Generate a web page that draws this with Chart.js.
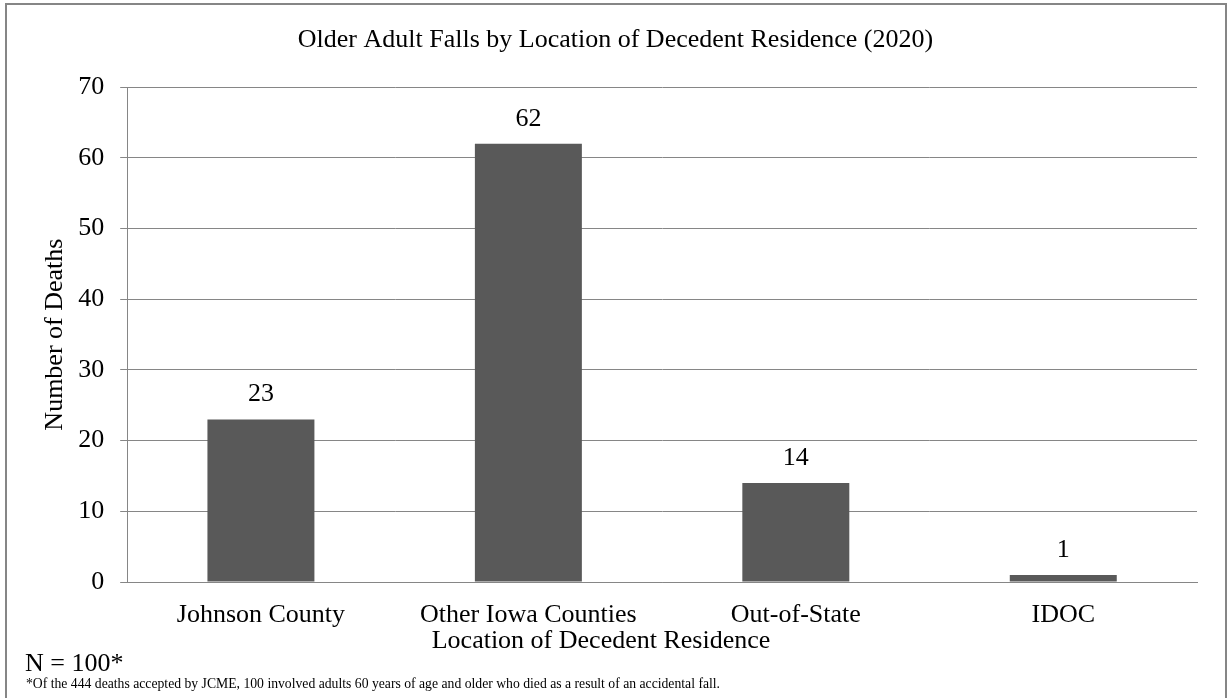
<!DOCTYPE html>
<html>
<head>
<meta charset="utf-8">
<script src="https://cdn.jsdelivr.net/npm/chart.js@4"></script>
<style>
  body { margin: 0; background: #fff; }
  #wrap { width: 1227px; height: 698px; }
</style>
</head>
<body>
<div id="wrap"><canvas id="fallsChart" width="1227" height="698"></canvas></div>
<script>
const categories = ['Johnson County', 'Other Iowa Counties', 'Out-of-State', 'IDOC'];
const deaths = [23, 62, 14, 1];
const yTicks = [0, 10, 20, 30, 40, 50, 60, 70];

const serif = '"Liberation Serif", "Times New Roman", serif';
const gridGray = '#868686';

const ctx = document.getElementById('fallsChart').getContext('2d');

const chart = new Chart(ctx, {
    type: 'bar',
    data: {
        labels: categories,
        datasets: [{
            data: deaths,
            backgroundColor: '#595959',
            categoryPercentage: 1,
            barPercentage: 0.4
        }]
    },
    options: {
        responsive: false,
        animation: false,
        layout: { padding: { left: 34, right: 30, top: 0, bottom: 0 } },
        plugins: {
            legend: { display: false },
            tooltip: { enabled: false },
            title: {
                display: true,
                text: 'Older Adult Falls by Location of Decedent Residence (2020)',
                color: '#000',
                font: { family: serif, size: 26, weight: 'normal' },
                padding: { top: 25, bottom: 31 }
            }
        },
        scales: {
            y: {
                min: 0,
                max: 70,
                afterBuildTicks(scale) {
                    scale.ticks = yTicks.map(v => ({ value: v }));
                },
                ticks: {
                    color: '#000',
                    padding: 16,
                    font: { family: serif, size: 26 }
                },
                grid: { color: gridGray, lineWidth: 1, tickLength: 7 },
                border: { color: gridGray, width: 1 },
                title: {
                    display: true,
                    text: 'Number of Deaths',
                    color: '#000',
                    font: { family: serif, size: 26 },
                    padding: { top: 6, bottom: -9 }
                }
            },
            x: {
                afterFit(scale) {
                    // room below the axis for labels, axis title and footnote
                    scale.height = 116;
                },
                ticks: {
                    color: '#000',
                    padding: 20,
                    font: { family: serif, size: 26, lineHeight: 1 }
                },
                grid: { display: false, drawTicks: false },
                border: { color: gridGray, width: 1 }
            }
        }
    },
    plugins: [{
        id: 'extras',
        afterDatasetsDraw(chart) {
            const c = chart.ctx;
            const meta = chart.getDatasetMeta(0);
            c.save();
            c.fillStyle = '#000';
            c.font = '26px ' + serif;
            c.textAlign = 'center';
            c.textBaseline = 'middle';
            meta.data.forEach((bar, i) => {
                c.fillText(String(deaths[i]), bar.x, bar.y - 25);
            });
            c.restore();
        },
        afterDraw(chart) {
            const c = chart.ctx;
            c.save();
            c.fillStyle = '#000';
            c.textBaseline = 'middle';
            c.font = '26px ' + serif;
            // x axis title sits centred on the page, not on the plot
            c.textAlign = 'center';
            c.fillText('Location of Decedent Residence', 601, 641);
            c.textAlign = 'left';
            c.fillText('N = 100*', 25, 664);
            c.font = '13.7px ' + serif;
            c.fillText('*Of the 444 deaths accepted by JCME, 100 involved adults 60 years of age and older who died as a result of an accidental fall.', 26, 684);
            // outer frame
            c.strokeStyle = gridGray;
            c.lineWidth = 2;
            c.strokeRect(6, 4, 1220, 700);
            c.restore();
        }
    }]
});
</script>
</body>
</html>
